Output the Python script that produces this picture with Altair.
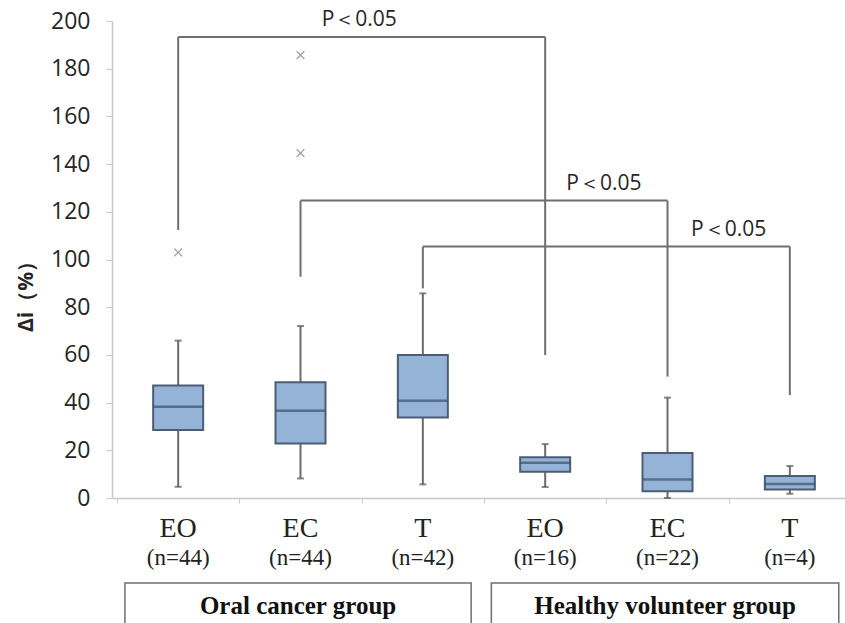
import altair as alt
import pandas as pd

# ---- data ----
categories = ["EO", "EC", "T", "EO", "EC", "T"]
n_labels = ["(n=44)", "(n=44)", "(n=42)", "(n=16)", "(n=22)", "(n=4)"]
cat_pos = [0.5, 1.5, 2.5, 3.5, 4.5, 5.5]
whisker_low = [4.7, 8.2, 5.7, 4.6, 0.0, 1.8]
q1 = [28.5, 22.9, 33.8, 11.0, 2.8, 3.6]
median = [38.3, 36.6, 40.8, 14.8, 7.8, 5.9]
q3 = [47.2, 48.5, 60.0, 17.1, 18.9, 9.2]
whisker_high = [66.0, 72.1, 85.8, 22.6, 42.1, 13.4]

outlier_pos = [0.5, 1.5, 1.5]
outlier_val = [103.0, 144.6, 185.7]

groups = ["Oral cancer group", "Healthy volunteer group"]
group_start = [0.065, 3.06]
group_end = [2.895, 5.9]

br_left = [0.5, 1.5, 2.5]
br_right = [3.5, 4.5, 5.5]
br_top = [193.3, 124.7, 105.4]
br_left_bottom = [112.4, 92.8, 87.9]
br_right_bottom = [60.0, 50.9, 43.2]
br_label = ["P＜0.05", "P＜0.05", "P＜0.05"]
br_label_pos = [1.98, 3.98, 5.0]

y_ticks = [0, 20, 40, 60, 80, 100, 120, 140, 160, 180, 200]
x_ticks = [0, 1, 2, 3, 4, 5]

# ---- tables ----
boxes = pd.DataFrame({
    "cat": categories, "n": n_labels, "x": cat_pos,
    "lo": whisker_low, "q1": q1, "med": median, "q3": q3, "hi": whisker_high,
})
outliers = pd.DataFrame({"x": outlier_pos, "v": outlier_val})
grp = pd.DataFrame({"g": groups, "x0": group_start, "x1": group_end,
                    "xm": [(a + b) / 2 for a, b in zip(group_start, group_end)]})
br = pd.DataFrame({"xl": br_left, "xr": br_right, "top": br_top,
                   "lb": br_left_bottom, "rb": br_right_bottom,
                   "lab": br_label, "lx": br_label_pos})

X = alt.Scale(domain=[0, 5.91], nice=False, zero=False)
Y = alt.Scale(domain=[0, 200], nice=False)

x_axis = alt.Axis(values=x_ticks, labels=False, title=None, grid=False,
                  domainColor="#c8c8c8", tickColor="#c8c8c8", tickSize=5,
                  domainWidth=1.5)
y_axis = alt.Axis(values=y_ticks, title="Δi（%）", grid=False,
                  domainColor="#c8c8c8", tickColor="#c8c8c8", tickSize=6,
                  domainWidth=1.5, labelFontSize=23, labelFont="Open Sans",
                  labelColor="#262626", labelPadding=16,
                  titleFont="Open Sans", titleFontSize=21, titleFontWeight="bold",
                  titleColor="#262626", titlePadding=14, titleY=270)

base = alt.Chart(boxes)

whisk = base.mark_rule(color="#6b6b6b", strokeWidth=2).encode(
    x=alt.X("x:Q", scale=X, axis=x_axis),
    y=alt.Y("lo:Q", scale=Y, axis=y_axis),
    y2="hi:Q",
)
cap_lo = base.mark_tick(color="#555555", thickness=2, size=7, orient="horizontal").encode(
    x=alt.X("x:Q", scale=X), y=alt.Y("lo:Q", scale=Y))
cap_hi = base.mark_tick(color="#555555", thickness=2, size=7, orient="horizontal").encode(
    x=alt.X("x:Q", scale=X), y=alt.Y("hi:Q", scale=Y))
box = base.mark_bar(size=50, fill="#95b3d7", stroke="#4a5d75", strokeWidth=2).encode(
    x=alt.X("x:Q", scale=X), y=alt.Y("q1:Q", scale=Y), y2="q3:Q")
med = base.mark_tick(color="#3d5068", thickness=2.5, size=50, orient="horizontal").encode(
    x=alt.X("x:Q", scale=X), y=alt.Y("med:Q", scale=Y))

outl = alt.Chart(outliers).mark_point(
    shape="M-1,-1L1,1M-1,1L1,-1", size=60, filled=False, color="#7a7a7a", strokeWidth=1.2
).encode(x=alt.X("x:Q", scale=X), y=alt.Y("v:Q", scale=Y))

brc = alt.Chart(br)
line_kw = dict(color="#6f6f6f", strokeWidth=2)
br_h = brc.mark_rule(**line_kw).encode(
    x=alt.X("xl:Q", scale=X), x2="xr:Q", y=alt.Y("top:Q", scale=Y))
br_l = brc.mark_rule(**line_kw).encode(
    x=alt.X("xl:Q", scale=X), y=alt.Y("lb:Q", scale=Y), y2="top:Q")
br_r = brc.mark_rule(**line_kw).encode(
    x=alt.X("xr:Q", scale=X), y=alt.Y("rb:Q", scale=Y), y2="top:Q")
br_t = brc.mark_text(font="Open Sans", fontSize=21, color="#262626",
                     baseline="middle", dy=-17).encode(
    x=alt.X("lx:Q", scale=X), y=alt.Y("top:Q", scale=Y), text="lab:N")

cat_t = base.mark_text(font="Liberation Serif", fontSize=28, color="#222222",
                       baseline="middle").encode(
    x=alt.X("x:Q", scale=X), y=alt.value(508), text="cat:N")
n_t = base.mark_text(font="Liberation Serif", fontSize=23, color="#222222",
                     baseline="middle").encode(
    x=alt.X("x:Q", scale=X), y=alt.value(537), text="n:N")

gc = alt.Chart(grp)
g_box = gc.mark_rect(fill="white", stroke="#6f6f6f", strokeWidth=1.5).encode(
    x=alt.X("x0:Q", scale=X), x2="x1:Q", y=alt.value(562), y2=alt.value(640))
g_t = gc.mark_text(font="Liberation Serif", fontSize=25, fontWeight="bold",
                   color="#111111", baseline="middle").encode(
    x=alt.X("xm:Q", scale=X), y=alt.value(585), text="g:N")

chart = alt.layer(
    br_h, br_l, br_r, br_t, whisk, cap_lo, cap_hi, box, med, outl,
    cat_t, n_t, g_box, g_t
).properties(
    width=733, height=477,
    autosize=alt.AutoSizeParams(type="none"),
    padding={"left": 112, "top": 21, "right": 0, "bottom": 125},
    background="white",
).configure_view(stroke=None)

chart.save("out.html", embed_options={"renderer": "svg", "actions": False})
